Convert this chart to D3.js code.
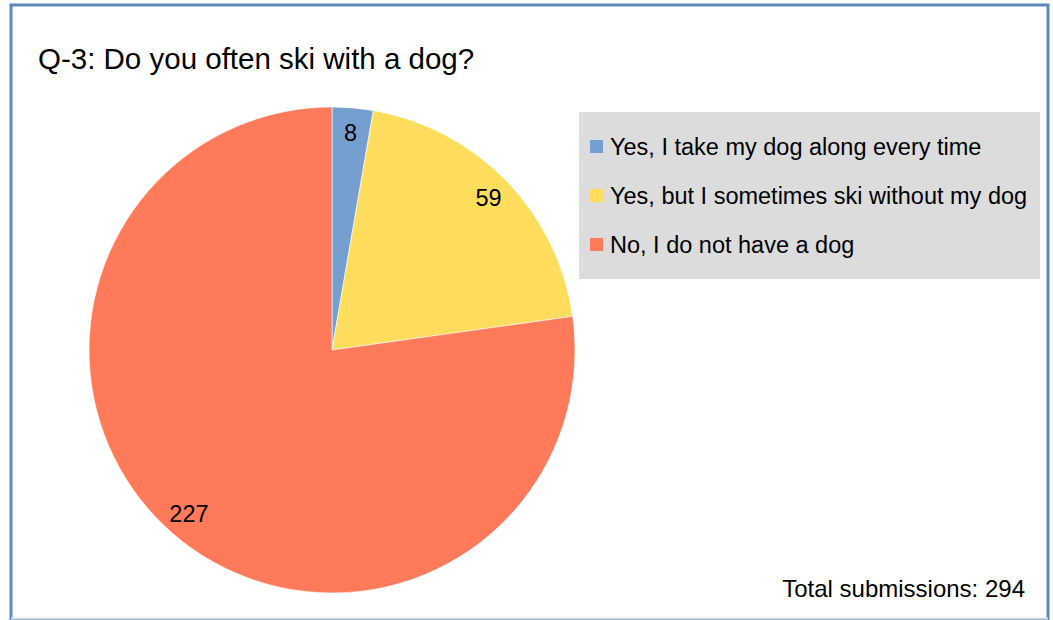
<!DOCTYPE html>
<html><head><meta charset="utf-8">
<script src="https://cdn.jsdelivr.net/npm/d3@7"></script>
<style>body{margin:0;background:#fff}svg{display:block}text{font-family:"Liberation Sans",Arial,sans-serif;fill:#000}</style>
</head><body>
<svg id="c" width="1053" height="620"></svg>
<script>
const categories = ["Yes, I take my dog along every time","Yes, but I sometimes ski without my dog","No, I do not have a dog"];
const values = [8, 59, 227];
const colors = ["#759fd0","#ffdd5c","#ff7a59"];
const title = "Q-3: Do you often ski with a dog?";
const footer = "Total submissions: 294";

const svg = d3.select("#c");
// outer frame
svg.append("rect").attr("x",11).attr("y",5).attr("width",1037).attr("height",615)
  .attr("fill","#fff").attr("stroke","#5e88b8").attr("stroke-width",3);
svg.append("line").attr("x1",11).attr("x2",1048).attr("y1",618.5).attr("y2",618.5).attr("stroke","#d6dde6").attr("stroke-width",2);

svg.append("text").attr("x",38).attr("y",69).attr("font-size",29.5).text(title);

const cx=332, cy=350, R=243;
const g = svg.append("g").attr("transform",`translate(${cx},${cy})`);
const pie = d3.pie().sort(null).value(d=>d)(values);
const arc = d3.arc().innerRadius(0).outerRadius(R);
const labelArc = d3.arc().innerRadius(218).outerRadius(218);
g.selectAll("path").data(pie).join("path").attr("d",arc).attr("fill",(d,i)=>colors[i])
  .attr("stroke","#fff").attr("stroke-width",0.6);
g.selectAll("text.l").data(pie).join("text").attr("class","l")
  .attr("transform",d=>`translate(${labelArc.centroid(d)})`)
  .attr("text-anchor","middle").attr("dominant-baseline","central").attr("font-size",23.5)
  .text(d=>d.data);

// legend
const lg = svg.append("g");
lg.append("rect").attr("x",579).attr("y",112).attr("width",461).attr("height",167).attr("fill","#dcdcdc");
const ly = d3.scalePoint().domain(categories).range([147,245]);
categories.forEach((c,i)=>{
  lg.append("rect").attr("x",590).attr("y",ly(c)-7).attr("width",13).attr("height",13).attr("fill",colors[i]);
  lg.append("text").attr("x",610).attr("y",ly(c)).attr("dominant-baseline","central").attr("font-size",23.5).text(c);
});

svg.append("text").attr("x",1025).attr("y",597).attr("text-anchor","end").attr("font-size",24).text(footer);
</script>
</body></html>
